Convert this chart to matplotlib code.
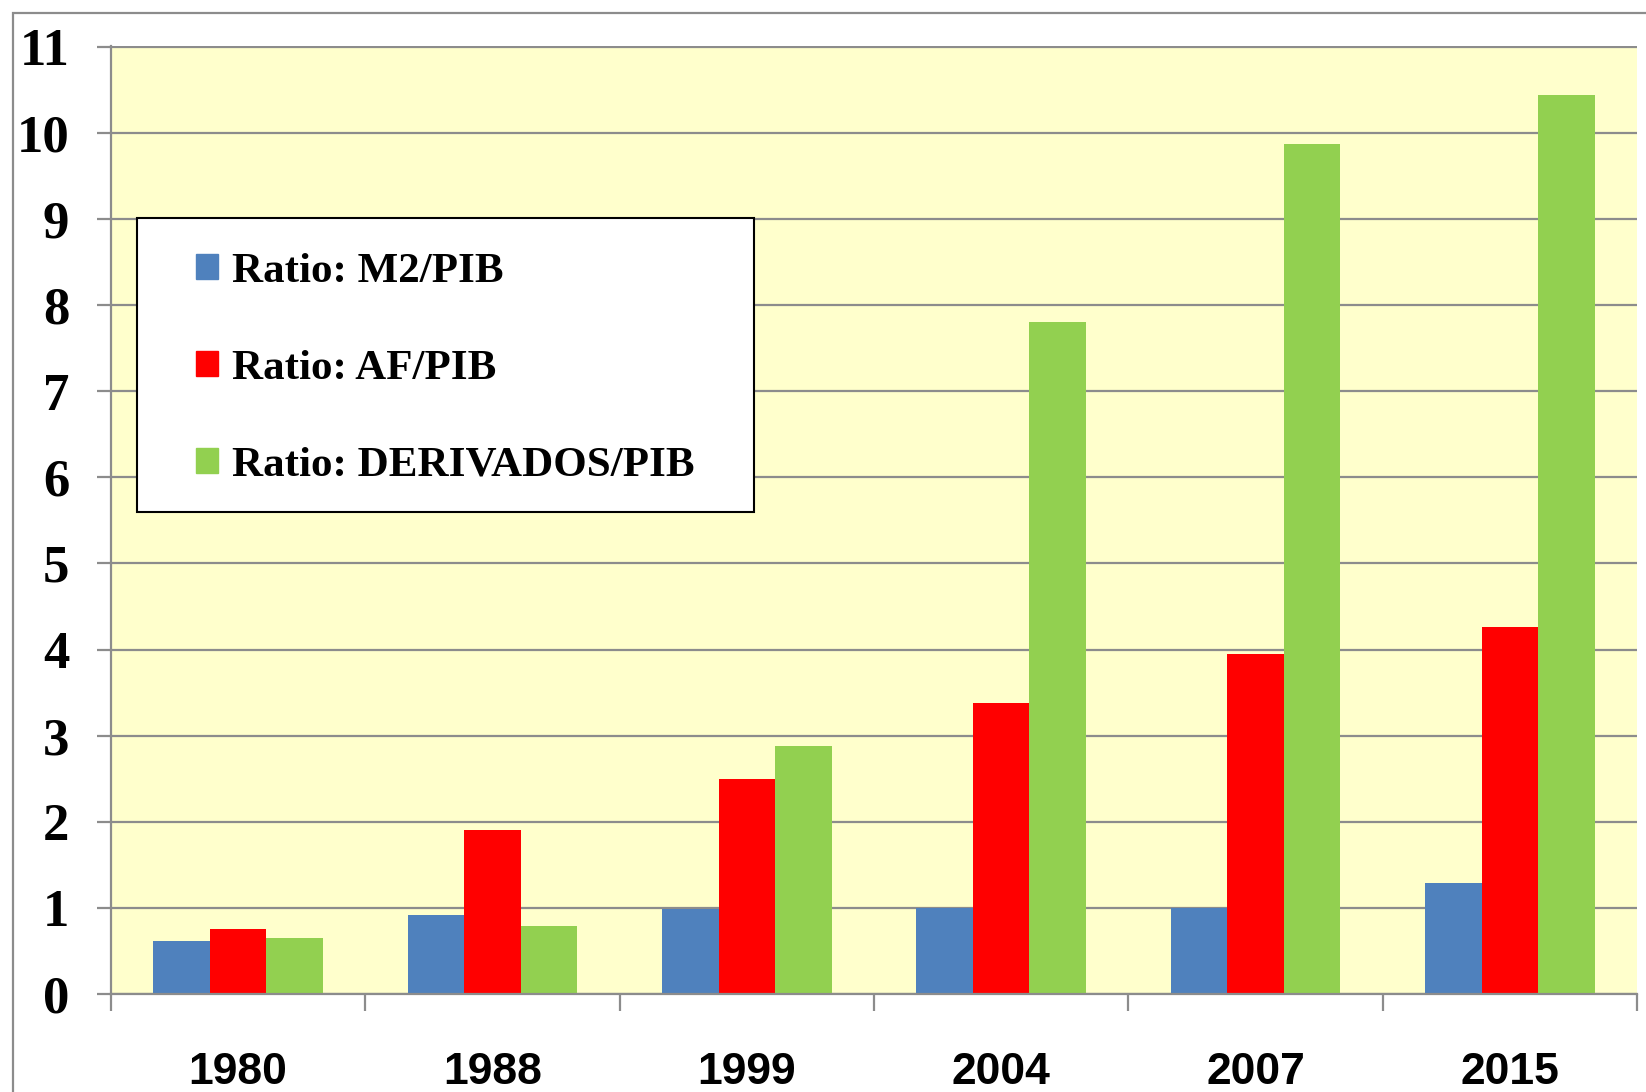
import numpy as np
from matplotlib import pyplot as plt
from matplotlib.patches import Patch, Rectangle

W, H, DPI = 1646, 1092, 100

years = ['1980', '1988', '1999', '2004', '2007', '2015']
m2_pib = [0.615, 0.92, 0.99, 1.0, 1.0, 1.29]
af_pib = [0.75, 1.90, 2.50, 3.38, 3.95, 4.26]
deriv_pib = [0.65, 0.785, 2.88, 7.80, 9.87, 10.44]

labels = ['Ratio: M2/PIB', 'Ratio: AF/PIB', 'Ratio: DERIVADOS/PIB']
colors = ['#4F81BD', '#FF0000', '#92D050']

GRID = '#8C8C8C'
BG = '#FFFFCC'
SERIF = ['Liberation Serif', 'DejaVu Serif']
SANS = ['Liberation Sans', 'DejaVu Sans']


def px(x, y):
    # figure pixel (from top-left) -> figure fraction
    return x / W, 1 - y / H


fig = plt.figure(figsize=(W / DPI, H / DPI), dpi=DPI)
x0, y0 = px(111, 994)
x1, y1 = px(1637, 46)
ax = fig.add_axes([x0, y0, x1 - x0, y1 - y0])
ax.set_facecolor(BG)

# outer chart frame (runs past the right/bottom edge of the picture)
fx, fy = px(13, 1200)
fig.add_artist(Rectangle((fx, fy), 1.2, (1 - 13 / H) - fy,
                         transform=fig.transFigure, fill=False,
                         edgecolor=GRID, lw=1.6, clip_on=False))

x = np.arange(len(years))
bw = 0.222
for i, (vals, c) in enumerate(zip([m2_pib, af_pib, deriv_pib], colors)):
    ax.bar(x + (i - 1) * bw, vals, bw, color=c, zorder=3)

ax.set_xlim(-0.5, len(years) - 0.5)
ax.set_ylim(0, 11.01)
ax.set_yticks(range(0, 12))
ax.yaxis.grid(True, color=GRID, lw=1.6, zorder=1)
ax.set_axisbelow(True)

for s in ['top', 'right']:
    ax.spines[s].set_visible(False)
for s in ['left', 'bottom']:
    ax.spines[s].set_color(GRID)
    ax.spines[s].set_linewidth(1.6)
    ax.spines[s].set_zorder(4)

ax.set_xticks(x)
ax.set_xticklabels(years, fontfamily=SANS, fontweight='bold', fontsize=32)
ax.set_xticks(np.arange(-0.5, len(years)), minor=True)
ax.tick_params(axis='x', which='major', length=0, pad=42)
ax.tick_params(axis='x', which='minor', length=12, width=1.6,
               color=GRID, direction='out')
ax.tick_params(axis='y', length=10, width=1.6, color=GRID, pad=20)
for t in ax.get_yticklabels():
    t.set_fontfamily(SERIF)
    t.set_fontweight('bold')
    t.set_fontsize(38)

# legend: white box with black edge, entries placed inside
lx, ly = px(137, 512)
rx, ry = px(754, 218)
fig.add_artist(Rectangle((lx, ly), rx - lx, ry - ly, transform=fig.transFigure,
                         facecolor='white', edgecolor='black', lw=1.5,
                         zorder=5))
handles = [Patch(color=c) for c in colors]
leg = fig.legend(handles, labels, loc='upper left',
                 bbox_to_anchor=px(196, 253), frameon=False, borderpad=0,
                 borderaxespad=0, handlelength=0.5, handleheight=0.5,
                 handletextpad=0.33, labelspacing=1.37,
                 prop={'family': SERIF, 'weight': 'bold', 'size': 31})
leg.set_zorder(6)

fig.savefig('out.png', dpi=DPI)
